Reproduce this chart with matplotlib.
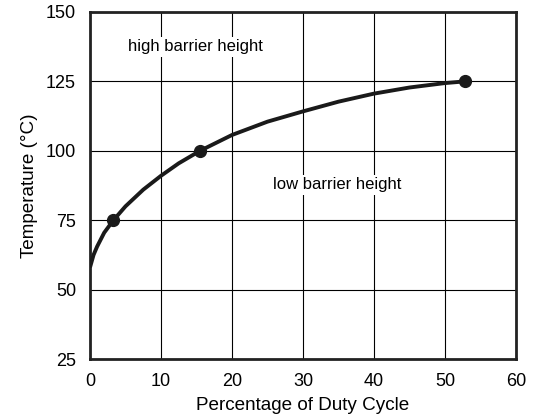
import numpy as np
import matplotlib.pyplot as plt

plt.rcParams['font.family'] = ['Liberation Sans', 'DejaVu Sans']

# curve
curve_x = [0, 0.5, 1, 2, 3.3, 5, 7.5, 10, 12.5, 15.5, 20, 25, 30, 35, 40, 45, 50, 52.8]
curve_y = [58, 62.5, 65.5, 70.5, 75, 80, 86, 91, 95.5, 100, 105.7, 110.5, 114.2, 117.7, 120.6, 122.8, 124.4, 125]

# marked points
pts_x = [3.3, 15.5, 52.8]
pts_y = [75, 100, 125]

x_ticks = [0, 10, 20, 30, 40, 50, 60]
y_ticks = [25, 50, 75, 100, 125, 150]

fig = plt.figure(figsize=(5.33, 4.2), dpi=100)
ax = fig.add_axes([90/533, 1 - 359/420, 426/533, 347/420])

ax.plot(curve_x, curve_y, color='#1a1a1a', lw=2.8, solid_capstyle='butt', zorder=3)
ax.plot(pts_x, pts_y, 'o', color='#1a1a1a', ms=8.5, zorder=4)

ax.set_xlim(0, 60)
ax.set_ylim(25, 150)
ax.set_xticks(x_ticks)
ax.set_yticks(y_ticks)
ax.grid(True, color='black', lw=0.8)
ax.set_axisbelow(True)
ax.tick_params(length=0, labelsize=13)
ax.tick_params(axis='x', pad=10)
ax.tick_params(axis='y', pad=10)
for s in ax.spines.values():
    s.set_linewidth(2)
    s.set_color('#222222')

ax.set_xlabel('Percentage of Duty Cycle', fontsize=13.6)
ax.set_ylabel('Temperature (°C)', fontsize=13.6)
ax.xaxis.set_label_coords(0.5, (359 - 406) / 347)
ax.xaxis.label.set_va('center')
ax.yaxis.set_label_coords((30 - 90) / 426, 0.5)
ax.yaxis.label.set_va('center')

bb = dict(facecolor='white', edgecolor='none', pad=2)
ax.text(14.8, 137.4, 'high barrier height', fontsize=12, ha='center', va='center', bbox=bb, zorder=5)
ax.text(34.8, 87.7, 'low barrier height', fontsize=12, ha='center', va='center', bbox=bb, zorder=5)

fig.savefig('out.png', dpi=100)
